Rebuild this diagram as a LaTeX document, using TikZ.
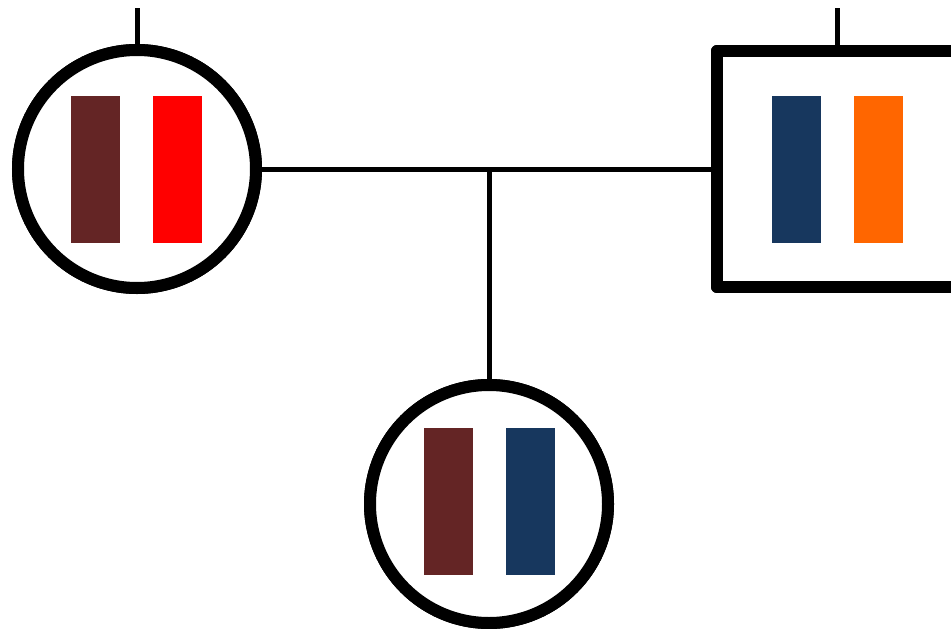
\documentclass[tikz,border=0pt]{standalone}
\begin{document}
\begin{tikzpicture}[x=1pt,y=-1pt,
  female/.style={circle,draw=black,line width=12pt,fill=white,inner sep=0pt,minimum size=238pt},
  male/.style={rectangle,draw=black,line width=12pt,fill=white,inner sep=0pt,
    minimum width=242pt,minimum height=236pt,line join=round},
  link/.style={draw=black,line width=5pt},
  chrom/.style={rectangle,inner sep=0pt,minimum width=49pt,minimum height=147pt},
  brownc/.style={chrom,fill=chrBrown},
  redc/.style={chrom,fill=chrRed},
  navyc/.style={chrom,fill=chrNavy},
  orangec/.style={chrom,fill=chrOrange}]
\definecolor{chrBrown}{HTML}{642525}
\definecolor{chrRed}{HTML}{FF0000}
\definecolor{chrNavy}{HTML}{17375E}
\definecolor{chrOrange}{HTML}{FF6600}
\useasboundingbox (0,0) rectangle (951,629);
\clip (0,0) rectangle (951,629);

% parents and child
\node[female] (mother) at (137,169) {};
\node[male]   (father) at (838,169) {};
\node[female] (child)  at (489,504) {};

% lines to the previous generation and the mating line
\coordinate (mtop) at (137,8);
\coordinate (ftop) at (837,8);
\coordinate (mate) at (489,169);
\draw[link] (mtop) -- (mother.north);
\draw[link] (ftop) -- (father.north -| ftop);
\draw[link] (mother.east) -- (father.west);
\draw[link] (mate) -- (child.north);

% redraw the outlines over the line ends
\node[female] at (mother) {};
\node[male]   at (father) {};
\node[female] at (child) {};

% chromosome pairs
\node[brownc]  (m1) at (95.5,169.5) {};
\node[redc]    (m2) at (177.5,169.5) {};
\node[navyc]   (f1) at (796.5,169.5) {};
\node[orangec] (f2) at (878.5,169.5) {};
\node[brownc]  (c1) at (448.5,501.5) {};
\node[navyc]   (c2) at (530.5,501.5) {};
\end{tikzpicture}
\end{document}
